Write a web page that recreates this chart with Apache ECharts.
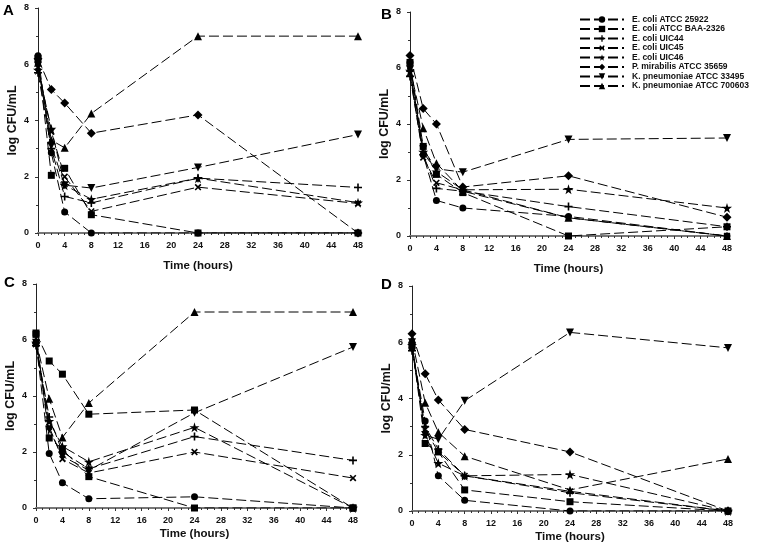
<!DOCTYPE html>
<html>
<head>
<meta charset="utf-8">
<script src="https://cdn.jsdelivr.net/npm/echarts@6/dist/echarts.min.js"></script>
<style>html,body{margin:0;padding:0;background:#fff;}#c{width:760px;height:550px;}</style>
</head>
<body>
<div id="c"></div>
<script>
// Time points (hours)
const times = [0, 2, 4, 8, 24, 48];
const seriesNames = ['E. coli ATCC 25922','E. coli ATCC BAA-2326','E. coli UIC44','E. coli UIC45','E. coli UIC46','P. mirabilis ATCC 35659','K. pneumoniae ATCC 33495','K. pneumoniae ATCC 700603'];
const panelLabels = ['A','B','C','D'];
const xTicks = [0,4,8,12,16,20,24,28,32,36,40,44,48];
const yTicks = [0,2,4,6,8];

// Panel A values (log CFU/mL), one array per strain
const A_ecoli25922 = [6.3, 2.85, 0.75, 0, 0, 0];
const A_ecoliBAA   = [6.2, 2.05, 2.3, 0.65, 0, 0];
const A_uic44      = [5.7, 3.0, 1.3, 1.07, 1.95, 1.62];
const A_uic45      = [5.9, 3.6, 2.0, 0.77, 1.63, 1.05];
const A_uic46      = [5.8, 3.7, 1.7, 1.2, 1.95, 1.08];
const A_pmir       = [6.2, 5.1, 4.62, 3.55, 4.2, 0];
const A_kp33495    = [5.95, 3.1, 1.7, 1.6, 2.33, 3.5];
const A_kp700603   = [6.05, 3.3, 3.03, 4.25, 7.0, 7.0];

// Panel B
const B_ecoli25922 = [6.2, 2.9, 1.27, 1.0, 0.7, 0];
const B_ecoliBAA   = [6.2, 3.2, 2.2, 1.55, 0, 0.33];
const B_uic44      = [5.7, 2.9, 1.7, 1.6, 1.05, 0.33];
const B_uic45      = [5.8, 2.8, 1.9, 1.65, 0.65, 0];
const B_uic46      = [5.9, 3.0, 2.3, 1.65, 1.67, 1.0];
const B_pmir       = [6.45, 4.55, 4.0, 1.75, 2.15, 0.67];
const B_kp33495    = [5.95, 3.1, 2.4, 2.28, 3.45, 3.5];
const B_kp700603   = [6.0, 3.85, 2.6, 1.6, 0.65, 0];

// Panel C
const C_ecoli25922 = [5.9, 1.95, 0.9, 0.33, 0.4, 0];
const C_ecoliBAA   = [6.2, 2.5, 2.1, 1.12, 0, 0];
const C_uic44      = [5.8, 3.25, 2.0, 1.4, 2.55, 1.7];
const C_uic45      = [5.85, 2.9, 1.75, 1.25, 2.0, 1.07];
const C_uic46      = [5.9, 3.1, 2.2, 1.65, 2.88, 0];
const C_pmir       = [6.25, 5.25, 4.78, 3.35, 3.5, 0];
const C_kp33495    = [5.9, 2.8, 1.85, 1.35, 3.4, 5.75];
const C_kp700603   = [6.0, 3.9, 2.52, 3.75, 7.0, 7.0];

// Panel D
const D_ecoli25922 = [5.8, 3.2, 1.25, 0.38, 0, 0];
const D_ecoliBAA   = [5.9, 2.4, 2.1, 0.75, 0.33, 0];
const D_uic44      = [5.7, 3.0, 2.2, 1.25, 0.65, 0];
const D_uic45      = [5.8, 2.9, 2.1, 1.25, 0.7, 0];
const D_uic46      = [5.9, 2.7, 1.7, 1.25, 1.3, 0];
const D_pmir       = [6.3, 4.88, 3.95, 2.9, 2.1, 0];
const D_kp33495    = [6.0, 2.7, 2.55, 3.92, 6.35, 5.8];
const D_kp700603   = [6.1, 3.85, 2.8, 1.95, 0.75, 1.85];

const panels = [
  [A_ecoli25922, A_ecoliBAA, A_uic44, A_uic45, A_uic46, A_pmir, A_kp33495, A_kp700603],
  [B_ecoli25922, B_ecoliBAA, B_uic44, B_uic45, B_uic46, B_pmir, B_kp33495, B_kp700603],
  [C_ecoli25922, C_ecoliBAA, C_uic44, C_uic45, C_uic46, C_pmir, C_kp33495, C_kp700603],
  [D_ecoli25922, D_ecoliBAA, D_uic44, D_uic45, D_uic46, D_pmir, D_kp33495, D_kp700603]
];

const PLUS = 'path://M4,0h2v4h4v2h-4v4h-2v-4h-4v-2h4z';
const STAR = 'path://M50,0L61,35L98,35L68,57L79,91L50,70L21,91L32,57L2,35L39,35Z';
const symbols = [
  {s:'circle', size:7, rot:0},
  {s:'rect', size:7, rot:0},
  {s:PLUS, size:8, rot:0},
  {s:PLUS, size:8, rot:45},
  {s:STAR, size:10, rot:0},
  {s:'diamond', size:9, rot:0},
  {s:'triangle', size:8, rot:180},
  {s:'triangle', size:8, rot:0}
];

const grids = [
  {left:38, top:8, width:320, height:225},
  {left:410, top:12, width:317, height:224},
  {left:36, top:284, width:317, height:224},
  {left:412, top:286, width:316, height:225}
];
const xNameGaps = [27, 27, 20, 20];

const font = '"Liberation Sans", Arial, sans-serif';
const xAxes = [], yAxes = [], series = [];
grids.forEach((g, i) => {
  xAxes.push({
    gridIndex:i, type:'value', min:0, max:48, interval:4,
    name:'Time (hours)', nameLocation:'middle', nameGap:xNameGaps[i],
    nameTextStyle:{fontFamily:font, fontWeight:'bold', fontSize:11.5, color:'#111'},
    axisLine:{lineStyle:{color:'#777', width:2}},
    axisTick:{show:true, length:3, lineStyle:{color:'#333'}},
    minorTick:{show:true, splitNumber:4, length:2, lineStyle:{color:'#333'}},
    splitLine:{show:false},
    axisLabel:{fontFamily:font, fontWeight:'bold', fontSize:9, color:'#111', margin:8,
      formatter: v => xTicks.includes(v) ? String(v) : ''}
  });
  yAxes.push({
    gridIndex:i, type:'value', min:0, max:8, interval:2,
    name:'log CFU/mL', nameLocation:'middle', nameGap:19, nameRotate:90,
    nameTextStyle:{fontFamily:font, fontWeight:'bold', fontSize:12.5, color:'#111'},
    axisLine:{show:true, lineStyle:{color:'#222', width:1}},
    axisTick:{show:true, length:3, lineStyle:{color:'#333'}},
    minorTick:{show:true, splitNumber:2, length:2, lineStyle:{color:'#333'}},
    splitLine:{show:false},
    axisLabel:{fontFamily:font, fontWeight:'bold', fontSize:9, color:'#111', margin:9,
      formatter: v => yTicks.includes(v) ? String(v) : ''}
  });
  panels[i].forEach((vals, k) => {
    let sym = symbols[k];
    // in panel C the P. mirabilis markers are drawn as squares in the reference
    if (i === 2 && k === 5) sym = {s:'rect', size:7, rot:0};
    series.push({
      name: seriesNames[k], type:'line', xAxisIndex:i, yAxisIndex:i,
      data: times.map((t, j) => [t, vals[j]]),
      symbol: sym.s, symbolSize: sym.size, symbolRotate: sym.rot,
      showAllSymbol: true, animation:false,
      lineStyle:{color:'#000', width:1, type:[10,4]},
      itemStyle:{color:'#000', borderColor:'#000', borderWidth:0}
    });
  });
});

const option = {
  backgroundColor:'#fff',
  animation:false,
  grid: grids,
  xAxis: xAxes,
  yAxis: yAxes,
  series: series,
  legend: {
    data: seriesNames.map(n => ({name:n})),
    orient:'vertical', left:574, top:10,
    itemWidth:44, itemHeight:8, itemGap:0.5,
    selectedMode:false,
    textStyle:{fontFamily:font, fontWeight:'bold', fontSize:8.5, color:'#111', lineHeight:8, padding:[0,0,0,3]}
  },
  graphic: panelLabels.map((L, i) => ({
    type:'text',
    left: [3, 381, 4, 381][i],
    top: [3, 7, 275, 277][i],
    style:{text:L, font:'bold 15px "Liberation Sans", Arial, sans-serif', fill:'#000'}
  }))
};

const chart = echarts.init(document.getElementById('c'), null, {renderer:'canvas'});
chart.setOption(option);
</script>
</body>
</html>
